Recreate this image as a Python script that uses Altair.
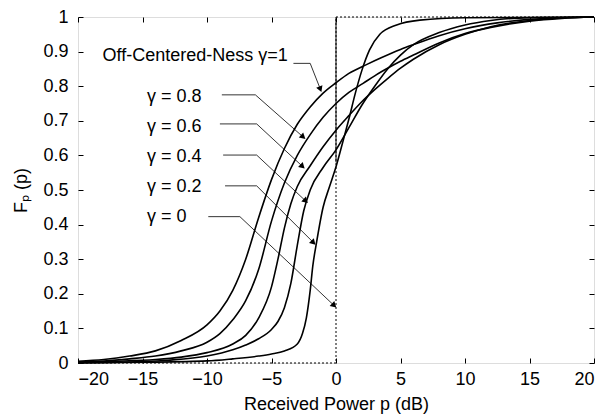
import math
import altair as alt
import pandas as pd

# ---- data ----
g10_x = [-20, -18, -16, -14, -12, -10, -9, -8, -7, -6, -5, -4, -3, -2, -1, 0, 1, 2.4, 3.5, 5, 6, 8, 10, 12.5, 15, 17.5, 20]
g10_F = [0.005, 0.01, 0.02, 0.035, 0.065, 0.11, 0.15, 0.21, 0.30, 0.42, 0.53, 0.62, 0.69, 0.74, 0.78, 0.81, 0.837, 0.863, 0.882, 0.906, 0.92, 0.946, 0.966, 0.983, 0.993, 0.998, 1.0]

g08_x = [-20, -18, -16, -14, -12, -10, -9, -8, -7, -6, -5, -4, -3, -2, -1, 0, 1, 2.1, 3, 4.2, 5, 6, 8, 10, 12, 15, 17.5, 20]
g08_F = [0.003, 0.006, 0.012, 0.02, 0.035, 0.06, 0.085, 0.125, 0.18, 0.27, 0.41, 0.52, 0.60, 0.66, 0.71, 0.75, 0.782, 0.808, 0.83, 0.856, 0.872, 0.89, 0.925, 0.952, 0.97, 0.988, 0.996, 1.0]

g06_x = [-20, -17, -14, -12, -10, -8, -7, -6, -5, -4.5, -4, -3.5, -3, -2, -1, 0, 1, 2, 3, 4, 5, 6, 8, 10, 12, 15, 17.5, 20]
g06_F = [0.002, 0.005, 0.01, 0.017, 0.03, 0.055, 0.08, 0.13, 0.22, 0.3, 0.39, 0.46, 0.51, 0.57, 0.625, 0.673, 0.715, 0.755, 0.79, 0.822, 0.852, 0.878, 0.92, 0.95, 0.972, 0.99, 0.997, 1.0]

g04_x = [-20, -16, -13, -10, -8, -7, -6, -5, -4.5, -4, -3.5, -3, -2.5, -2, -1, 0, 1, 2, 3, 4, 5, 6, 8, 10, 12, 15, 20]
g04_F = [0.001, 0.003, 0.008, 0.02, 0.038, 0.052, 0.07, 0.097, 0.12, 0.16, 0.23, 0.34, 0.44, 0.50, 0.565, 0.616, 0.68, 0.745, 0.80, 0.85, 0.89, 0.92, 0.955, 0.977, 0.99, 0.998, 1.0]

g02_x = [-20, -15, -10, -8, -6, -5, -4, -3, -2.6, -2.3, -2.0, -1.8, -1.5, -1.0, -0.5, 0, 0.5, 1.0, 1.5, 2.0, 2.6, 3.4, 4.7, 6.5, 10, 20]
g02_F = [0.0, 0.002, 0.006, 0.012, 0.02, 0.026, 0.035, 0.055, 0.085, 0.13, 0.21, 0.28, 0.35, 0.45, 0.51, 0.567, 0.635, 0.705, 0.78, 0.845, 0.905, 0.95, 0.977, 0.991, 0.998, 1.0]

# gamma = 0 : step CDF
g00_x = [-20, 0, 0, 20]
g00_F = [0, 0, 1, 1]
g00_solid = [0.58, 1.0]

# annotations
lab_text = ["Off-Centered-Ness \u03b3=1", "\u03b3 = 0.8", "\u03b3 = 0.6", "\u03b3 = 0.4", "\u03b3 = 0.2", "\u03b3 = 0"]
lab_x = [-18.1, -14.65, -14.65, -14.65, -14.65, -14.65]
lab_y = [0.887, 0.77, 0.683, 0.596, 0.51, 0.423]
lead_x0 = [-3.3, -8.85, -9.0, -8.75, -8.6, -9.9]
lead_x1 = [-2.0, -6.25, -6.15, -6.15, -6.15, -7.45]
lead_y = [0.866, 0.775, 0.691, 0.601, 0.512, 0.423]
tip_x = [-1.24, -2.6, -2.65, -2.4, -1.8, -0.2]
tip_y = [0.794, 0.655, 0.57, 0.47, 0.35, 0.168]

x_ticks = [-20, -15, -10, -5, 0, 5, 10, 15, 20]
y_ticks = [0, 0.1, 0.2, 0.3, 0.4, 0.5, 0.6, 0.7, 0.8, 0.9, 1.0]

# ---- layout ----
W, H = 516, 346
FONT = "Liberation Sans"
FS = 18

rows = []
for name, xs, fs in [("1", g10_x, g10_F), ("0.8", g08_x, g08_F), ("0.6", g06_x, g06_F),
                     ("0.4", g04_x, g04_F), ("0.2", g02_x, g02_F)]:
    for i, (a, b) in enumerate(zip(xs, fs)):
        rows.append({"gamma": name, "idx": i, "x": a, "F": b})
curves = pd.DataFrame(rows)

step = pd.DataFrame({"idx": range(len(g00_x)), "x": g00_x, "F": g00_F})
solid = pd.DataFrame({"x": [0], "F": [g00_solid[0]], "F2": [g00_solid[1]]})

lrows = []
for k in range(len(lab_text)):
    lrows.append({"k": k, "idx": 0, "x": lead_x0[k], "F": lead_y[k]})
    lrows.append({"k": k, "idx": 1, "x": lead_x1[k], "F": lead_y[k]})
    lrows.append({"k": k, "idx": 2, "x": tip_x[k], "F": tip_y[k]})
leaders = pd.DataFrame(lrows)

heads = []
for k in range(len(lab_text)):
    dx = (tip_x[k] - lead_x1[k]) * W / 40.0
    dy = -(tip_y[k] - lead_y[k]) * H / 1.0
    ang = math.degrees(math.atan2(dx, -dy)) % 360
    heads.append({"x": tip_x[k], "F": tip_y[k], "angle": ang})
heads = pd.DataFrame(heads)

labels = pd.DataFrame({"x": lab_x, "F": lab_y, "text": lab_text})

xscale = alt.Scale(domain=[-20, 20], nice=False, zero=False)
yscale = alt.Scale(domain=[0, 1], nice=False)

ax_common = dict(grid=False, domain=False, tickSize=5, offset=-5, tickColor="black",
                 tickWidth=1, labelColor="black", labelFont=FONT, labelFontSize=FS,
                 titleFont=FONT, titleFontSize=FS, titleFontWeight="normal", titleColor="black")

x_bottom = alt.Axis(orient="bottom", values=x_ticks, labelPadding=7, title="Received Power p (dB)",
                    titlePadding=7, **ax_common)
y_left = alt.Axis(orient="left", values=y_ticks, format=".1~f", labelPadding=10, title="F\u209a (p)",
                  titlePadding=12, **ax_common)
x_top = alt.Axis(orient="top", values=x_ticks, labels=False, title=None, **ax_common)
y_right = alt.Axis(orient="right", values=y_ticks, labels=False, title=None, **ax_common)

curve_layer = alt.Chart(curves).mark_line(color="black", strokeWidth=1.6, interpolate="monotone").encode(
    x=alt.X("x:Q", scale=xscale, axis=x_bottom),
    y=alt.Y("F:Q", scale=yscale, axis=y_left),
    detail="gamma:N",
    order="idx:Q",
)

step_layer = alt.Chart(step).mark_line(color="black", strokeWidth=1, strokeDash=[2, 2]).encode(
    x=alt.X("x:Q", scale=xscale, axis=x_top),
    y=alt.Y("F:Q", scale=yscale, axis=y_right),
    order="idx:Q",
)

solid_layer = alt.Chart(solid).mark_rule(color="black", strokeWidth=1).encode(
    x=alt.X("x:Q", scale=xscale, axis=None),
    y=alt.Y("F:Q", scale=yscale, axis=None),
    y2="F2:Q",
)

leader_layer = alt.Chart(leaders).mark_line(color="black", strokeWidth=0.8).encode(
    x=alt.X("x:Q", scale=xscale, axis=None),
    y=alt.Y("F:Q", scale=yscale, axis=None),
    detail="k:N",
    order="idx:Q",
)

head_layer = alt.Chart(heads).mark_point(shape="triangle", filled=True, color="black", size=45, opacity=1).encode(
    x=alt.X("x:Q", scale=xscale, axis=None),
    y=alt.Y("F:Q", scale=yscale, axis=None),
    angle=alt.Angle("angle:Q", scale=None),
)

text_layer = alt.Chart(labels).mark_text(align="left", baseline="middle", font=FONT, fontSize=FS, color="black").encode(
    x=alt.X("x:Q", scale=xscale, axis=None),
    y=alt.Y("F:Q", scale=yscale, axis=None),
    text="text:N",
)

chart = alt.layer(curve_layer, step_layer, solid_layer, leader_layer, head_layer, text_layer).resolve_axis(
    x="independent", y="independent"
).properties(
    width=W, height=H,
    autosize=alt.AutoSizeParams(type="none"),
    padding={"left": 78, "top": 17, "right": 14, "bottom": 52},
).configure_view(stroke="black", strokeWidth=1).configure(background="white")

chart.save("out.html", embed_options={"renderer": "svg", "actions": False})
